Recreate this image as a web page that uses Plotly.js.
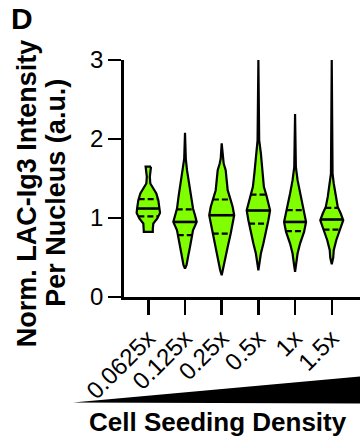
<!DOCTYPE html>
<html>
<head>
<meta charset="utf-8">
<script src="https://cdn.plot.ly/plotly-3.0.1.min.js"></script>
<style>
html,body{margin:0;padding:0;background:#fff;}
#chart{width:360px;height:437px;}
</style>
</head>
<body>
<div id="chart"></div>
<script>
// Categories (cell seeding density)
const categories = ["0.0625x", "0.125x", "0.25x", "0.5x", "1x", "1.5x"];

// Violin outlines: value levels (top to bottom) and relative density (half-width)
const v1_levels  = [1.651, 1.606, 1.521, 1.437, 1.374, 1.31, 1.226, 1.14, 1.065, 0.994, 0.93, 0.867, 0.824];
const v1_density = [2.7,   2.5,   1.5,   2,     5,     8,    10,    11,   11.7,  9,     5,    4.5,   4.5];

const v2_levels  = [2.08, 1.75, 1.606, 1.479, 1.394, 1.267, 1.12, 1.035, 0.95, 0.845, 0.76, 0.634, 0.507, 0.402, 0.36];
const v2_density = [0,    0.8,  2,     3.5,   5,     6.5,   8,    10,    11.7, 8,     7,    5,     3,     1.5,   0];

const v3_levels  = [1.944, 1.75, 1.69, 1.606, 1.479, 1.352, 1.226, 1.14, 1.035, 0.93, 0.803, 0.634, 0.465, 0.338, 0.275];
const v3_density = [0,     1,    2,    4,     5,     6,     9,     11,   12.5,  11,   9,     6,     3.5,   1.5,   0];

const v4_levels  = [3.0, 1.986, 1.817, 1.564, 1.394, 1.289, 1.184, 1.099, 0.972, 0.845, 0.677, 0.55, 0.465, 0.338];
const v4_density = [0,   0.8,   2.5,   4,     5.5,   8,     10,    11.7,  10,    8,     5,     2.5,  1.5,   0];

const v5_levels  = [2.316, 1.648, 1.479, 1.31, 1.184, 1.057, 0.95, 0.824, 0.677, 0.55, 0.45, 0.317];
const v5_density = [0,     0.8,   2.5,   5,    7,     9,     11,   9,     5,     2.5,  1.5,  0];

const v6_levels  = [3.0, 1.564, 1.437, 1.267, 1.14, 1.057, 0.972, 0.845, 0.719, 0.592, 0.5, 0.414];
const v6_density = [0,   0.8,   2,     4,     6,    9,     11.5,  8,     4.5,   2,     1.5, 0];

// Quartiles
const q3Values     = [1.24, 1.108, 1.234, 1.295, 1.099, 1.128];
const medianValues = [1.12, 0.95,  1.035, 1.095, 0.95,  0.981];
const q1Values     = [1.02, 0.782, 0.803, 0.93,  0.833, 0.854];

const yTicks = [0, 1, 2, 3];

const levels  = [v1_levels, v2_levels, v3_levels, v4_levels, v5_levels, v6_levels];
const density = [v1_density, v2_density, v3_density, v4_density, v5_density, v6_density];

const SCALE = 1 / 36.7; // density units -> category units
const GREEN = '#80ff00';

function widthAt(lv, dn, y) {
  for (let k = 0; k < lv.length - 1; k++) {
    const a = lv[k], b = lv[k + 1];
    if (y <= a && y >= b) {
      const t = (a - y) / (a - b);
      return dn[k] + t * (dn[k + 1] - dn[k]);
    }
  }
  return 0;
}

const traces = [];
categories.forEach((cat, i) => {
  const lv = levels[i], dn = density[i];
  const xs = [], ys = [];
  for (let k = 0; k < lv.length; k++) { xs.push(i + dn[k] * SCALE); ys.push(lv[k]); }
  for (let k = lv.length - 1; k >= 0; k--) { xs.push(i - dn[k] * SCALE); ys.push(lv[k]); }
  xs.push(xs[0]); ys.push(ys[0]);
  traces.push({
    x: xs, y: ys, type: 'scatter', mode: 'lines', fill: 'toself',
    fillcolor: GREEN, line: {color: '#000', width: 2.2}, hoverinfo: 'skip', showlegend: false
  });
  const lines = [
    {v: medianValues[i], dash: 'solid', w: 2.6},
    {v: q3Values[i], dash: '6px,3px', w: 2.2},
    {v: q1Values[i], dash: '6px,3px', w: 2.2}
  ];
  lines.forEach(L => {
    const hw = widthAt(lv, dn, L.v) * SCALE;
    traces.push({
      x: [i - hw, i + hw], y: [L.v, L.v], type: 'scatter', mode: 'lines',
      line: {color: '#000', width: L.w, dash: L.dash}, hoverinfo: 'skip', showlegend: false
    });
  });
});

const FONT = 'Liberation Sans, Arial, sans-serif';

const layout = {
  width: 360, height: 437,
  margin: {l: 124, r: 0, t: 60, b: 140},
  paper_bgcolor: '#fff', plot_bgcolor: '#fff',
  showlegend: false,
  font: {family: FONT, color: '#000', size: 24},
  xaxis: {
    range: [-0.663, 5.77],
    tickmode: 'array', tickvals: categories.map((c, i) => i), ticktext: categories,
    tickangle: -45, ticks: 'outside', ticklen: 15, tickwidth: 2.5, tickcolor: '#000',
    showline: true, linecolor: '#000', linewidth: 2.8, showgrid: false, zeroline: false,
    tickfont: {family: FONT, size: 24, color: '#000'}, fixedrange: true
  },
  yaxis: {
    range: [0, 3.0], tickmode: 'array', tickvals: yTicks,
    ticks: 'outside', ticklen: 13, tickwidth: 2.5, tickcolor: '#000',
    showline: true, linecolor: '#000', linewidth: 2.8, showgrid: false, zeroline: false,
    tickfont: {family: FONT, size: 24, color: '#000'}, fixedrange: true
  },
  shapes: [
    {type: 'path', xref: 'paper', yref: 'paper',
     path: 'M -0.216 -0.445 L 1.0 -0.335 L 1.0 -0.449 Z',
     fillcolor: '#000', line: {width: 0}}
  ],
  annotations: [
    {text: '<b>D</b>', xref: 'paper', yref: 'paper', x: -0.432, y: 1.177,
     xanchor: 'center', yanchor: 'middle', showarrow: false, font: {family: FONT, size: 30, color: '#000'}},
    {text: '<b>Norm. LAC-Ig3 Intensity</b>', xref: 'paper', yref: 'paper', x: -0.411, y: 0.438,
     textangle: -90, xanchor: 'center', yanchor: 'middle', showarrow: false,
     font: {family: FONT, size: 27, color: '#000'}},
    {text: '<b>Per Nucleus (a.u.)</b>', xref: 'paper', yref: 'paper', x: -0.286, y: 0.438,
     textangle: -90, xanchor: 'center', yanchor: 'middle', showarrow: false,
     font: {family: FONT, size: 27, color: '#000'}},
    {text: '<b>Cell Seeding Density</b>', xref: 'paper', yref: 'paper', x: 0.40, y: -0.529,
     xanchor: 'center', yanchor: 'middle', showarrow: false,
     font: {family: FONT, size: 26, color: '#000'}}
  ]
};

Plotly.newPlot('chart', traces, layout, {displayModeBar: false, staticPlot: true});
</script>
</body>
</html>
